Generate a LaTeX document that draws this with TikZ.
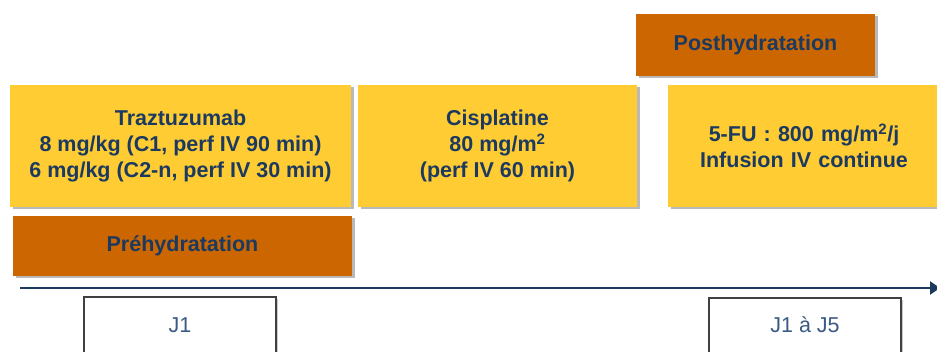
\documentclass[tikz,border=0pt]{standalone}
\usepackage{fontspec}
\setmainfont{Liberation Sans}
\usetikzlibrary{shadows,arrows.meta}
\definecolor{yel}{HTML}{FFCC33}
\definecolor{ora}{HTML}{CC6600}
\definecolor{navy}{HTML}{1C3A60}
\definecolor{jblue}{HTML}{3A5A85}
\begin{document}
\begin{tikzpicture}[x=1pt,y=-1pt,
  box/.style={anchor=north west, inner sep=0pt, outer sep=0pt, align=center,
    font=\bfseries\fontsize{21.5}{26}\selectfont, text=navy,
    drop shadow={shadow xshift=2.5pt, shadow yshift=-2.5pt, opacity=0.55, fill=gray}},
  yelbox/.style={box, fill=yel},
  orabox/.style={box, fill=ora},
  daybox/.style={anchor=north west, inner sep=0pt, outer sep=0pt, fill=white,
    draw=black!75, line width=1.2pt,
    drop shadow={shadow xshift=2pt, shadow yshift=-2pt, opacity=0.4, fill=gray}},
  daytext/.style={text=jblue, font=\fontsize{21.5}{24}\selectfont}
]
\useasboundingbox (0,0) rectangle (937,352);
\clip (0,0) rectangle (937,352);
\node[yelbox, minimum width=341pt, minimum height=122pt] (traz) at (10,85)
  {Traztuzumab\\8 mg/kg (C1, perf IV 90 min)\\6 mg/kg (C2-n, perf IV 30 min)};
\node[orabox, minimum width=339pt, minimum height=60pt] (pre) at (13,216) {Préhydratation};
\node[yelbox, minimum width=279pt, minimum height=122pt] (cis) at (358,85)
  {Cisplatine\\80 mg/m\textsuperscript{2}\\(perf IV 60 min)};
\node[orabox, minimum width=239pt, minimum height=62pt] (post) at (636,14) {Posthydratation};
\node[yelbox, minimum width=272pt, minimum height=122pt, text width=240pt] (fu) at (668,85)
  {5-FU : 800 mg/m\textsuperscript{2}/j\\Infusion IV continue};
\coordinate (a0) at (20,288);
\coordinate (a1) at (940,288);
\draw[navy, line width=2.8pt, -{Triangle[length=10pt,width=13pt]}] (a0) -- (a1);
\node[daybox, minimum width=192pt, minimum height=70pt] (j1) at (84,297) {};
\node[daytext] (j1t) at (180,325) {J1};
\node[daybox, minimum width=192pt, minimum height=70pt] (j5) at (709,298) {};
\node[daytext] (j5t) at (805,325) {J1 à J5};
\end{tikzpicture}
\end{document}
